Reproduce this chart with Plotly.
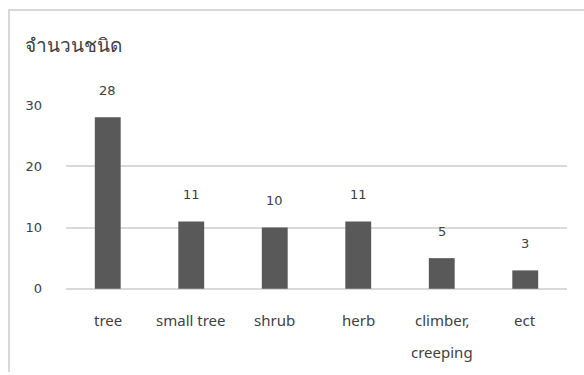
import plotly.graph_objects as go

# Species count per plant habit
categories = ["tree", "small tree", "shrub", "herb", "climber, creeping", "ect"]
counts = [28, 11, 10, 11, 5, 3]
tick_labels = ["tree", "small tree", "shrub", "herb", "climber,<br>creeping", "ect"]
y_ticks = [0, 10, 20, 30]

TEXT = "#404040"
GRID = "#d9d9d9"
BAR = "#595959"

# plot-area geometry in pixels
W, H = 584, 375
L, R, T, B = 66, 17, 105, 85
PW, PH = W - L - R, H - T - B


def px_x(px):
    return (px - L) / PW


def px_y(py):
    return (H - B - py) / PH


fig = go.Figure()
fig.add_trace(go.Bar(
    x=categories,
    y=counts,
    marker=dict(color=BAR, line=dict(width=0)),
    width=0.31,
    hoverinfo="skip",
))

# value labels above each bar
for c, v in zip(categories, counts):
    fig.add_annotation(
        x=c, y=v, xref="x", yref="y",
        text=str(v), showarrow=False,
        yanchor="middle", yshift=27,
        font=dict(family="DejaVu Sans", size=13, color=TEXT),
    )

# category labels under the axis, with wide line spacing
for c, lab in zip(categories, tick_labels):
    for i, p in enumerate(lab.split("<br>")):
        fig.add_annotation(
            x=c, y=0, xref="x", yref="y",
            text=p, showarrow=False,
            yanchor="middle", yshift=-31 - 32 * i,
            font=dict(family="Noto Sans", size=15, color=TEXT),
        )

# chart frame: left and top edges
fig.add_shape(type="line", xref="paper", yref="paper",
              x0=px_x(9), x1=px_x(9), y0=px_y(9), y1=px_y(372),
              line=dict(color=GRID, width=2))
fig.add_shape(type="line", xref="paper", yref="paper",
              x0=px_x(8), x1=px_x(590), y0=px_y(10), y1=px_y(10),
              line=dict(color=GRID, width=2))

fig.update_layout(
    width=W, height=H,
    margin=dict(l=L, r=R, t=T, b=B),
    paper_bgcolor="white",
    plot_bgcolor="white",
    showlegend=False,
    title=dict(
        text="จำนวนชนิด",
        x=25 / W, xanchor="left",
        y=1 - 45 / H, yanchor="middle",
        font=dict(family="Noto Sans", size=19, color=TEXT),
    ),
    xaxis=dict(
        showticklabels=False,
        showgrid=False,
        zeroline=False,
        showline=False,
        ticks="",
    ),
    yaxis=dict(
        range=[-0.2, 30],
        tickvals=y_ticks,
        showgrid=True,
        gridcolor=GRID,
        gridwidth=2,
        zeroline=True,
        zerolinecolor=GRID,
        zerolinewidth=2,
        showline=False,
        ticks="",
        ticklabelstandoff=23,
        tickfont=dict(family="DejaVu Sans", size=13, color=TEXT),
    ),
)

fig.write_html("out.html")
